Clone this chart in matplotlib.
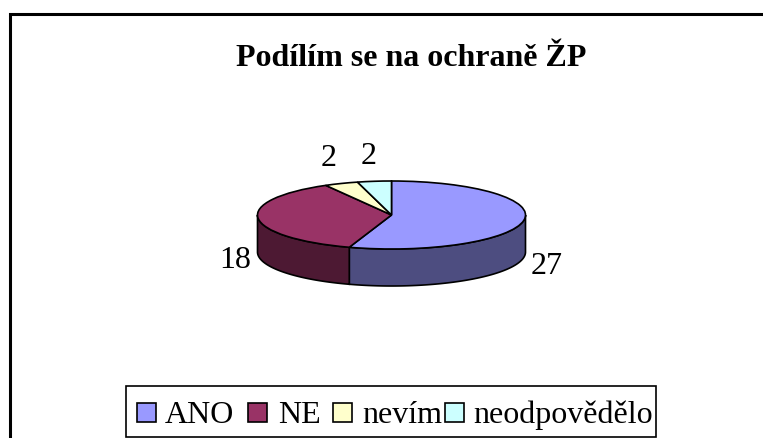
import numpy as np
import matplotlib
matplotlib.use('Agg')
import matplotlib.pyplot as plt
from matplotlib.patches import Rectangle
from matplotlib.lines import Line2D

# Data
labels = ['ANO', 'NE', 'nevím', 'neodpovědělo']
values = [27, 18, 2, 2]
colors = ['#9999FF', '#993366', '#FFFFCC', '#CCFFFF']
side_colors = ['#4D4D80', '#4D1933', '#808066', '#668080']

W, H = 763, 438
plt.rcParams['font.family'] = ['Liberation Serif', 'DejaVu Serif']
FS = 23

fig = plt.figure(figsize=(W / 100, H / 100), dpi=100)


def box(x0, y0, x1, y1, **kw):
    # rectangle given in picture pixels
    fig.add_artist(Rectangle((x0 / W, 1 - y1 / H), (x1 - x0) / W, (y1 - y0) / H,
                             transform=fig.transFigure, **kw))


# Outer frame: only the top and left edges are inside the picture
fig.add_artist(Line2D([9.5 / W, 9.5 / W, 1], [0, 1 - 13.5 / H, 1 - 13.5 / H], transform=fig.transFigure,
                      color='black', linewidth=2.2, solid_joinstyle='miter'))

fig.text(411 / W, 1 - 58 / H, 'Podílím se na ochraně ŽP', ha='center', va='center',
         fontsize=FS, fontweight='bold')

# Pie axes, stretched so the circle looks tilted
cx, cy, rx, ry, depth = 391.5, 215, 134, 34, 37
ax = fig.add_axes([(cx - rx) / W, 1 - (cy + ry) / H, 2 * rx / W, 2 * ry / H])

d = depth / ry
fracs = np.array(values) / sum(values)
edges = 90 - 360 * np.concatenate([[0], np.cumsum(fracs)])

# Side walls, only the front half of the rim shows
for i in range(len(values)):
    a0, a1 = edges[i + 1], edges[i]
    lo, hi = max(a0, -180), min(a1, 0)
    if lo >= hi:
        continue
    a = np.radians(np.linspace(lo, hi, 200))
    x = np.cos(a)
    y = np.sin(a)
    ax.fill(np.r_[x, x[::-1]], np.r_[y, y[::-1] - d], facecolor=side_colors[i],
            edgecolor='black', linewidth=1.2, clip_on=False, zorder=1)

wedges, _ = ax.pie(values, colors=colors, startangle=90, counterclock=False, radius=1,
                   wedgeprops={'edgecolor': 'black', 'linewidth': 1.2, 'clip_on': False})
for w in wedges:
    w.set_zorder(2)
ax.set_aspect('auto')
ax.set_xlim(-1, 1)
ax.set_ylim(-1, 1)
ax.axis('off')

# Value labels
label_pos = [(547, 266), (235, 260.5), (328.5, 158.5), (369, 156.5)]
for v, (px, py) in zip(values, label_pos):
    fig.text(px / W, 1 - py / H, str(v), ha='center', va='center', fontsize=FS)

# Legend, spaced by hand because its gaps are uneven
box(125.5, 385.5, 655.5, 437, facecolor='none', edgecolor='black', linewidth=1.2)
patch_x = [137, 248, 333, 445]
text_x = [165, 278, 362, 473]
for c, lab, px, tx in zip(colors, labels, patch_x, text_x):
    box(px, 403, px + 19, 422, facecolor=c, edgecolor='black', linewidth=1.2)
    fig.text(tx / W, 1 - 423 / H, lab, ha='left', va='baseline', fontsize=FS)

fig.savefig('out.png', dpi=100)
